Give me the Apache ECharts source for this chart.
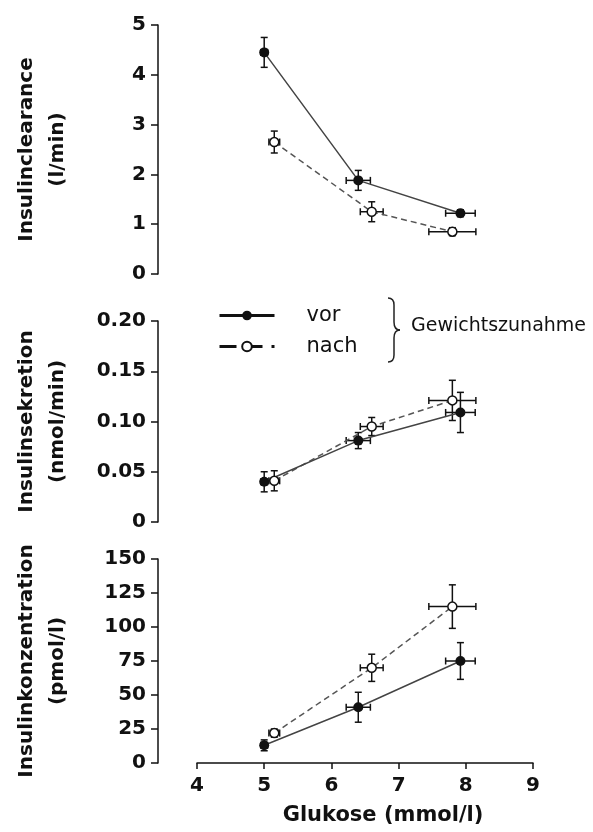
<!DOCTYPE html>
<html>
<head>
<meta charset="utf-8">
<script src="https://cdn.jsdelivr.net/npm/echarts@6/dist/echarts.min.js"></script>
<style>
html, body { margin: 0; padding: 0; background: #fff; }
#chart { width: 593px; height: 832px; }
</style>
</head>
<body>
<div id="chart"></div>
<script>
// Glukose (x-Werte), gleich in allen drei Panels
const glucoseVor = [5.0, 6.4, 7.92];
const glucoseVorErr = [0.05, 0.18, 0.22];
const glucoseNach = [5.15, 6.6, 7.8];
const glucoseNachErr = [0.08, 0.17, 0.35];

// Insulinclearance (l/min)
const clearanceVor = [4.45, 1.88, 1.22];
const clearanceVorErr = [0.3, 0.2, 0.07];
const clearanceNach = [2.65, 1.25, 0.85];
const clearanceNachErr = [0.22, 0.2, 0.08];

// Insulinsekretion (nmol/min)
const sekretionVor = [0.040, 0.081, 0.109];
const sekretionVorErr = [0.01, 0.008, 0.02];
const sekretionNach = [0.041, 0.095, 0.121];
const sekretionNachErr = [0.01, 0.009, 0.02];

// Insulinkonzentration (pmol/l)
const konzVor = [13, 41, 75];
const konzVorErr = [4, 11, 13.5];
const konzNach = [22, 70, 115];
const konzNachErr = [3, 10, 16];

const xTicks = [4, 5, 6, 7, 8, 9];

const BOLD = 'DejaVu Sans';
const INK = '#111';

// Fehlerbalken (x und y) über die Achsen der Panels
const errorBarItem = (params, api) => {
  const x = api.value(0), y = api.value(1), ex = api.value(2), ey = api.value(3);
  const c = api.coord([x, y]);
  const t = api.coord([x, y + ey]);
  const b = api.coord([x, y - ey]);
  const l = api.coord([x - ex, y]);
  const r = api.coord([x + ex, y]);
  const cap = 3.5;
  const style = { stroke: INK, lineWidth: 1.5 };
  const seg = (x1, y1, x2, y2) => ({ type: 'line', shape: { x1, y1, x2, y2 }, style });
  return {
    type: 'group',
    children: [
      seg(c[0], t[1], c[0], b[1]),
      seg(c[0] - cap, t[1], c[0] + cap, t[1]),
      seg(c[0] - cap, b[1], c[0] + cap, b[1]),
      seg(l[0], c[1], r[0], c[1]),
      seg(l[0], c[1] - cap, l[0], c[1] + cap),
      seg(r[0], c[1] - cap, r[0], c[1] + cap)
    ]
  };
};

const zip4 = (xs, ys, exs, eys) => xs.map((x, i) => [x, ys[i], exs[i], eys[i]]);
const zip2 = (xs, ys) => xs.map((x, i) => [x, ys[i]]);

const panels = [
  { title: 'Insulinclearance\n(l/min)', top: 25, height: 249, max: 5, interval: 1,
    vor: clearanceVor, vorErr: clearanceVorErr, nach: clearanceNach, nachErr: clearanceNachErr,
    fmt: v => String(v) },
  { title: 'Insulinsekretion\n(nmol/min)', top: 321, height: 201, max: 0.2, interval: 0.05,
    vor: sekretionVor, vorErr: sekretionVorErr, nach: sekretionNach, nachErr: sekretionNachErr,
    fmt: v => (v === 0 ? '0' : v.toFixed(2)) },
  { title: 'Insulinkonzentration\n(pmol/l)', top: 559, height: 204, max: 150, interval: 25,
    vor: konzVor, vorErr: konzVorErr, nach: konzNach, nachErr: konzNachErr,
    fmt: v => String(v) }
];

const grid = [], xAxis = [], yAxis = [], series = [];

panels.forEach((p, i) => {
  const last = i === panels.length - 1;
  grid.push({ left: 197, right: 60, top: p.top, height: p.height });
  xAxis.push({
    type: 'value', gridIndex: i, min: xTicks[0], max: xTicks[xTicks.length - 1], interval: 1,
    show: last,
    axisLine: { onZero: false, lineStyle: { color: INK, width: 1.5 } },
    axisTick: { inside: false, length: 6, lineStyle: { color: INK, width: 1.5 } },
    axisLabel: { color: INK, fontFamily: BOLD, fontWeight: 'bold', fontSize: 20, margin: 13 },
    splitLine: { show: false },
    name: last ? 'Glukose (mmol/l)' : '',
    nameLocation: 'middle',
    nameGap: 42,
    nameTextStyle: { color: INK, fontFamily: BOLD, fontWeight: 'bold', fontSize: 21, padding: [0, 0, 0, 36] }
  });
  yAxis.push({
    type: 'value', gridIndex: i, min: 0, max: p.max, interval: p.interval,
    offset: 39,
    axisLine: { show: true, lineStyle: { color: INK, width: 1.5 } },
    axisTick: { show: true, length: 7, lineStyle: { color: INK, width: 1.5 } },
    axisLabel: { color: INK, fontFamily: BOLD, fontWeight: 'bold', fontSize: 20, margin: 12, formatter: p.fmt },
    splitLine: { show: false },
    name: p.title,
    nameLocation: 'middle',
    nameRotate: 90,
    nameGap: 85,
    nameTextStyle: { color: INK, fontFamily: BOLD, fontWeight: 'bold', fontSize: 20, lineHeight: 31 }
  });

  series.push({
    type: 'custom', name: 'vorErr', xAxisIndex: i, yAxisIndex: i, z: 1,
    renderItem: errorBarItem, encode: { x: 0, y: 1 },
    data: zip4(glucoseVor, p.vor, glucoseVorErr, p.vorErr)
  });
  series.push({
    type: 'custom', name: 'nachErr', xAxisIndex: i, yAxisIndex: i, z: 1,
    renderItem: errorBarItem, encode: { x: 0, y: 1 },
    data: zip4(glucoseNach, p.nach, glucoseNachErr, p.nachErr)
  });
  series.push({
    type: 'line', name: 'nach', xAxisIndex: i, yAxisIndex: i, z: 3,
    data: zip2(glucoseNach, p.nach),
    symbol: 'circle', symbolSize: 9,
    itemStyle: { color: '#fff', borderColor: INK, borderWidth: 1.5 },
    lineStyle: { color: '#555', width: 1.5, type: [6, 4] }
  });
  series.push({
    type: 'line', name: 'vor', xAxisIndex: i, yAxisIndex: i, z: 3,
    data: zip2(glucoseVor, p.vor),
    symbol: 'circle', symbolSize: 10,
    itemStyle: { color: INK },
    lineStyle: { color: '#444', width: 1.5 }
  });
});

// geschweifte Klammer neben der Legende
const braceStyle = { stroke: '#222', lineWidth: 1.5, fill: null };
const brace = [
  { type: 'bezierCurve', shape: { x1: 388, y1: 298, cpx1: 394, cpy1: 298, x2: 394, y2: 305 } },
  { type: 'line', shape: { x1: 394, y1: 305, x2: 394, y2: 322 } },
  { type: 'bezierCurve', shape: { x1: 394, y1: 322, cpx1: 394, cpy1: 330, x2: 400, y2: 330 } },
  { type: 'bezierCurve', shape: { x1: 400, y1: 330, cpx1: 394, cpy1: 330, x2: 394, y2: 338 } },
  { type: 'line', shape: { x1: 394, y1: 338, x2: 394, y2: 355 } },
  { type: 'bezierCurve', shape: { x1: 394, y1: 355, cpx1: 394, cpy1: 362, x2: 388, y2: 362 } }
].map(el => Object.assign(el, { style: braceStyle }));

const chart = echarts.init(document.getElementById('chart'), null, { renderer: 'canvas' });
chart.setOption({
  animation: false,
  backgroundColor: '#fff',
  grid, xAxis, yAxis, series,
  legend: {
    data: [
      { name: 'vor' },
      { name: 'nach', lineStyle: { type: [17, 9] } }
    ],
    orient: 'vertical',
    left: 213, top: 300,
    itemWidth: 55, itemHeight: 12, itemGap: 10,
    selectedMode: false,
    lineStyle: { width: 3, color: INK },
    textStyle: { color: INK, fontFamily: 'DejaVu Sans', fontSize: 21, padding: [0, 0, 0, 27] }
  },
  graphic: brace.concat([
    {
      type: 'text', left: 411, top: 317,
      style: { text: 'Gewichtszunahme', fill: INK, font: '19px "DejaVu Sans"' }
    }
  ])
});
</script>
</body>
</html>
